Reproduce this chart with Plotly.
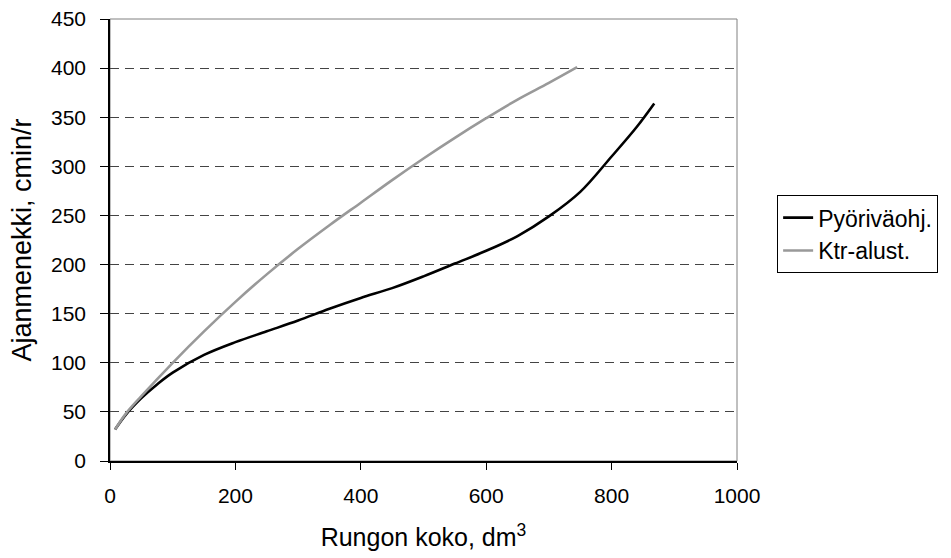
import plotly.graph_objects as go

# Rungon koko (dm3) and time consumption (cmin/r) for the two methods
pyori_x = [8, 25, 50, 75, 100, 150, 200, 250, 300, 350, 400, 450, 500, 550, 600,
           650, 700, 750, 800, 840, 868]
pyori_y = [32, 47, 64, 78, 90, 108, 121, 132, 143, 155, 166, 176, 188, 201, 214,
           229, 249, 274, 310, 340, 364]

ktr_x = [8, 25, 50, 100, 150, 200, 250, 300, 350, 400, 450, 500, 550, 600, 650, 700, 745]
ktr_y = [32, 48, 66, 100, 132, 162, 190, 216, 240, 263, 286, 308, 329, 349, 368, 385, 401]

x_ticks = [0, 200, 400, 600, 800, 1000]
y_ticks = [0, 50, 100, 150, 200, 250, 300, 350, 400, 450]

font = "Liberation Sans, Arial, sans-serif"

fig = go.Figure()
fig.add_trace(go.Scatter(
    x=pyori_x, y=pyori_y, mode="lines", name="Pyöriväohj.",
    line=dict(color="#000000", width=2.6, shape="spline", smoothing=1.0),
))
fig.add_trace(go.Scatter(
    x=ktr_x, y=ktr_y, mode="lines", name="Ktr-alust.",
    line=dict(color="#999999", width=2.6, shape="spline", smoothing=1.0),
))

fig.update_layout(
    width=951, height=558,
    margin=dict(l=110, r=214, t=19, b=97, autoexpand=False),
    paper_bgcolor="white", plot_bgcolor="white",
    font=dict(family=font, size=21, color="#000000"),
    showlegend=True,
    legend=dict(
        x=1.064, y=0.425, xanchor="left", yanchor="bottom",
        bordercolor="#000000", borderwidth=1, bgcolor="white",
        font=dict(family=font, size=23, color="#000000"),
        tracegroupgap=0, itemwidth=30,
    ),
    shapes=[dict(
        type="rect", xref="paper", yref="paper", x0=0, y0=0, x1=1, y1=1,
        line=dict(color="#808080", width=1), layer="below",
    )],
)

fig.update_xaxes(
    range=[0, 1000], tickvals=x_ticks, ticktext=[str(v) for v in x_ticks],
    showgrid=False, zeroline=False,
    showline=True, linecolor="#000000", linewidth=1.5,
    ticks="outside", ticklen=7, tickcolor="#000000", tickwidth=1,
    ticklabelstandoff=8,
    tickfont=dict(family=font, size=21),
    title=dict(text="Rungon koko, dm<sup>3</sup>", font=dict(family=font, size=25), standoff=23),
)
fig.update_yaxes(
    range=[0, 450], tickvals=y_ticks, ticktext=[str(v) for v in y_ticks],
    showgrid=True, gridcolor="#444444", gridwidth=1, griddash="9px,6px",
    zeroline=False,
    showline=True, linecolor="#000000", linewidth=1.5,
    ticks="outside", ticklen=8, tickcolor="#000000", tickwidth=1,
    ticklabelstandoff=10,
    tickfont=dict(family=font, size=21),
    title=dict(text="Ajanmenekki, cmin/r", font=dict(family=font, size=27), standoff=12),
)

fig.write_html("out.html")
